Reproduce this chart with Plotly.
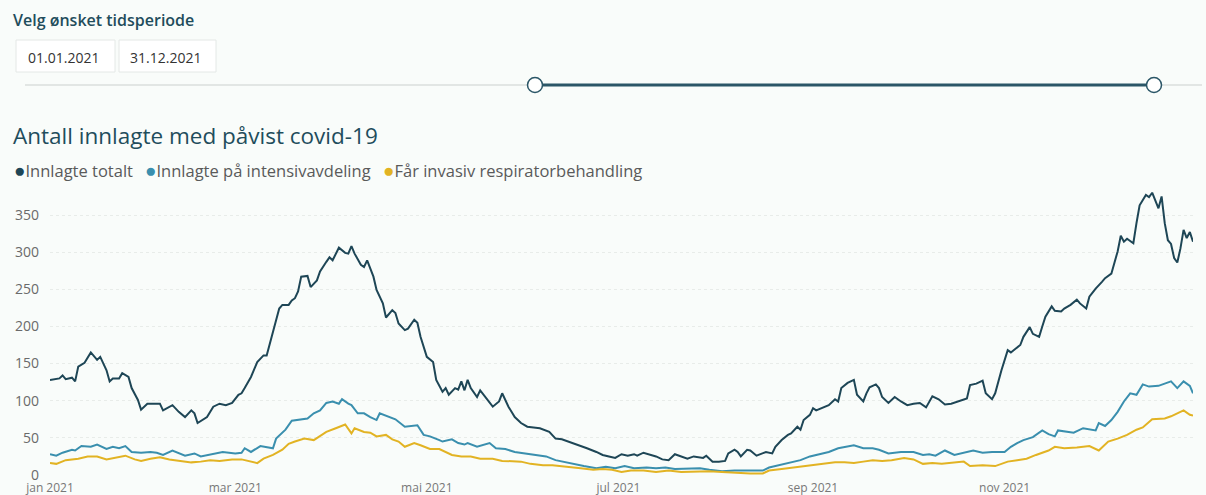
import plotly.graph_objects as go
import pandas as pd

# ---------------- data ----------------
START = "2021-01-01"

# (day offset from 1 Jan 2021, value)
innlagte_totalt = [
    (0, 128), (3, 130), (4, 134), (5, 129), (7, 131), (8, 126), (9, 146), (11, 151), (13, 165),
    (15, 155), (16, 159), (18, 141), (19, 126), (20, 130), (22, 130), (23, 137), (25, 132),
    (26, 117), (28, 101), (29, 88), (31, 96), (33, 96), (35, 96), (36, 87), (38, 92), (39, 94),
    (41, 85), (43, 78), (45, 87), (46, 83), (47, 70), (50, 78), (52, 92), (54, 96), (56, 94),
    (58, 97), (60, 108), (61, 110), (62, 117), (64, 132), (66, 152), (68, 161), (69, 161),
    (71, 191), (73, 224), (74, 229), (76, 229), (77, 235), (78, 238), (79, 247), (80, 267),
    (82, 268), (83, 253), (85, 262), (86, 274), (88, 287), (89, 293), (90, 289), (92, 306),
    (94, 299), (95, 298), (96, 308), (97, 298), (99, 283), (100, 280), (101, 289), (103, 267),
    (104, 249), (106, 231), (107, 212), (109, 222), (110, 218), (111, 204), (113, 195),
    (114, 197), (116, 209), (117, 205), (118, 186), (120, 159), (122, 152), (123, 128),
    (125, 112), (126, 117), (127, 108), (129, 117), (130, 115), (131, 126), (132, 114),
    (133, 128), (134, 117), (136, 105), (137, 114), (139, 103), (141, 92), (143, 99),
    (144, 110), (146, 92), (148, 78), (150, 70), (152, 65), (154, 64), (156, 63), (159, 58),
    (161, 49), (163, 48), (165, 45), (167, 43), (169, 39), (171, 36), (174, 31), (176, 27),
    (178, 25), (180, 23), (182, 28), (184, 26), (186, 28), (187, 26), (189, 30), (191, 28),
    (193, 25), (195, 21), (197, 20), (199, 28), (201, 25), (203, 22), (205, 25), (208, 23),
    (209, 26), (211, 18), (213, 18), (215, 19), (216, 29), (218, 34), (219, 31), (220, 25),
    (222, 34), (223, 33), (225, 26), (227, 29), (228, 31), (230, 29), (231, 38), (233, 47),
    (235, 54), (236, 56), (238, 65), (239, 61), (240, 74), (242, 81), (243, 90), (244, 87),
    (246, 91), (248, 94), (250, 102), (251, 99), (252, 117), (254, 124), (256, 128), (257, 108),
    (259, 99), (260, 110), (261, 118), (263, 122), (264, 117), (265, 105), (267, 97), (268, 101),
    (269, 105), (271, 99), (273, 94), (275, 96), (277, 97), (279, 91), (281, 106), (283, 102),
    (285, 95), (287, 96), (289, 99), (292, 103), (293, 121), (295, 123), (297, 127), (298, 110),
    (300, 102), (301, 110), (303, 141), (305, 168), (306, 165), (309, 175), (310, 186),
    (312, 199), (313, 190), (315, 186), (316, 200), (317, 213), (319, 227), (320, 221),
    (322, 220), (323, 224), (325, 229), (327, 236), (328, 231), (330, 224), (331, 240),
    (333, 251), (335, 260), (336, 265), (338, 271), (339, 285), (340, 301), (341, 322),
    (342, 314), (343, 318), (345, 312), (346, 339), (347, 363), (349, 377), (350, 374),
    (351, 380), (352, 368), (353, 359), (354, 375), (355, 339), (356, 316), (357, 311),
    (358, 292), (359, 286), (360, 305), (361, 330), (362, 319), (363, 327), (364, 314),
]

innlagte_intensiv = [
    (0, 28), (2, 26), (4, 30), (7, 34), (8, 33), (10, 39), (13, 38), (15, 41), (18, 35), (20, 38),
    (22, 36), (24, 39), (26, 31), (29, 30), (32, 31), (34, 30), (36, 27), (39, 33), (43, 26),
    (46, 29), (48, 25), (51, 28), (55, 31), (59, 29), (61, 30), (62, 36), (64, 31), (67, 39),
    (69, 37), (71, 36), (72, 49), (75, 61), (77, 73), (79, 74), (82, 76), (84, 83), (86, 87),
    (88, 97), (90, 99), (92, 96), (93, 102), (95, 96), (96, 94), (98, 83), (100, 83), (102, 78),
    (104, 74), (105, 83), (108, 78), (110, 75), (113, 65), (115, 66), (117, 67), (119, 54),
    (121, 52), (124, 47), (125, 45), (128, 48), (130, 43), (132, 41), (133, 43), (136, 38),
    (140, 43), (142, 36), (145, 35), (148, 31), (151, 29), (154, 27), (158, 25), (161, 20),
    (164, 17), (167, 14), (170, 12), (174, 9), (177, 11), (180, 9), (183, 12), (186, 9),
    (190, 10), (193, 9), (196, 10), (199, 8), (202, 8), (207, 9), (210, 7), (214, 5), (218, 6),
    (223, 6), (227, 6), (229, 10), (232, 13), (235, 16), (239, 20), (242, 25), (245, 28),
    (248, 31), (251, 36), (253, 38), (256, 40), (259, 36), (262, 36), (264, 34), (267, 29),
    (271, 31), (275, 31), (278, 27), (280, 28), (282, 26), (285, 33), (288, 27), (291, 30),
    (294, 33), (297, 30), (300, 31), (304, 31), (306, 38), (308, 43), (310, 47), (313, 51),
    (314, 54), (316, 60), (318, 55), (320, 52), (321, 60), (326, 57), (329, 63), (333, 60),
    (334, 70), (336, 66), (338, 74), (340, 85), (342, 99), (344, 110), (346, 108), (348, 122),
    (350, 119), (353, 120), (357, 126), (359, 117), (361, 126), (363, 120), (364, 110),
]

respiratorbehandling = [
    (0, 16), (2, 15), (5, 20), (9, 22), (12, 25), (15, 25), (18, 21), (21, 24), (24, 26), (27, 21),
    (29, 19), (32, 22), (35, 24), (38, 21), (42, 19), (45, 17), (48, 18), (51, 20), (54, 19),
    (58, 21), (61, 21), (63, 19), (66, 16), (68, 22), (71, 27), (74, 34), (76, 42), (78, 45),
    (81, 49), (84, 47), (86, 52), (88, 58), (91, 63), (93, 66), (94, 68), (96, 56), (97, 63),
    (100, 58), (102, 57), (104, 52), (107, 54), (109, 48), (111, 45), (113, 38), (116, 43),
    (118, 40), (121, 35), (124, 35), (126, 31), (128, 27), (131, 25), (134, 25), (137, 22),
    (141, 22), (144, 19), (147, 18), (150, 18), (153, 15), (157, 13), (160, 13), (163, 12),
    (166, 11), (169, 9), (173, 7), (176, 8), (179, 7), (182, 4), (185, 6), (189, 6), (193, 4),
    (197, 6), (201, 4), (206, 5), (210, 5), (214, 4), (218, 3), (223, 2), (227, 2), (229, 6),
    (233, 8), (237, 10), (242, 12), (246, 15), (250, 17), (253, 17), (256, 16), (259, 18),
    (262, 20), (265, 19), (268, 20), (272, 23), (275, 21), (278, 15), (281, 16), (284, 15),
    (288, 17), (291, 18), (293, 12), (297, 13), (301, 12), (305, 18), (308, 20), (311, 22),
    (314, 27), (316, 30), (318, 33), (320, 38), (323, 36), (327, 37), (331, 39), (334, 33),
    (337, 45), (340, 49), (343, 54), (346, 61), (348, 64), (351, 75), (355, 76), (357, 79),
    (359, 83), (361, 87), (363, 81), (364, 80),
]

serie_navn = ["Innlagte totalt", "Innlagte på intensivavdeling", "Får invasiv respiratorbehandling"]
serie_farger = ["#1e4656", "#3a8fae", "#e2b323"]

tick_datoer = ["2021-01-01", "2021-03-01", "2021-05-01", "2021-07-01", "2021-09-01", "2021-11-01"]
tick_tekst = ["jan 2021", "mar 2021", "mai 2021", "jul 2021", "sep 2021", "nov 2021"]
y_ticks = [0, 50, 100, 150, 200, 250, 300, 350]

periode_tittel = "Velg ønsket tidsperiode"
periode_fra = "01.01.2021"
periode_til = "31.12.2021"
diagram_tittel = "Antall innlagte med påvist covid-19"

# ---------------- figure ----------------
W_TOT, H_TOT = 1206, 495
L, R, T, B = 50, 13, 189, 20
PW, PH = W_TOT - L - R, H_TOT - T - B
BG = "#f9fcfa"
FONT = "Open Sans"


def px(x):
    return (x - L) / PW


def py(y):
    return (H_TOT - B - y) / PH


fig = go.Figure()
for data, navn, farge in zip([innlagte_totalt, innlagte_intensiv, respiratorbehandling],
                             serie_navn, serie_farger):
    datoer = pd.Timestamp(START) + pd.to_timedelta([d for d, _ in data], unit="D")
    fig.add_trace(go.Scatter(
        x=datoer, y=[v for _, v in data], mode="lines", name=navn,
        line=dict(color=farge, width=2), showlegend=False,
    ))

shapes = []
# date boxes
for x0, x1 in [(16, 115), (119, 216)]:
    shapes.append(dict(type="rect", xref="paper", yref="paper",
                       x0=px(x0), x1=px(x1), y0=py(72), y1=py(40),
                       line=dict(color="#e4e8e6", width=1), fillcolor="#ffffff", layer="above"))
# slider track
shapes.append(dict(type="line", xref="paper", yref="paper", x0=px(25), x1=px(1202),
                   y0=py(85), y1=py(85), line=dict(color="#e2e6e4", width=2)))
shapes.append(dict(type="line", xref="paper", yref="paper", x0=px(535), x1=px(1154),
                   y0=py(85), y1=py(85), line=dict(color="#2b5667", width=3)))
for cx in (535, 1154):
    shapes.append(dict(type="circle", xref="paper", yref="paper",
                       x0=px(cx - 7.5), x1=px(cx + 7.5), y0=py(85 + 7.5), y1=py(85 - 7.5),
                       line=dict(color="#2b5667", width=1.5), fillcolor="#ffffff"))

annotations = [
    dict(text=periode_tittel, x=px(11), y=py(20), xref="paper", yref="paper",
         xanchor="left", yanchor="middle", showarrow=False,
         font=dict(family=FONT, size=16, color="#1f4d5c", weight=600)),
    dict(text=periode_fra, x=px(63), y=py(57), xref="paper", yref="paper",
         xanchor="center", yanchor="middle", showarrow=False,
         font=dict(family=FONT, size=14, color="#333333")),
    dict(text=periode_til, x=px(165), y=py(57), xref="paper", yref="paper",
         xanchor="center", yanchor="middle", showarrow=False,
         font=dict(family=FONT, size=14, color="#333333")),
    dict(text=diagram_tittel, x=px(11), y=py(135), xref="paper", yref="paper",
         xanchor="left", yanchor="middle", showarrow=False,
         font=dict(family=FONT, size=22.5, color="#1f4d5c")),
]
legend_x = [12, 143, 381]
for lx, navn, farge in zip(legend_x, serie_navn, serie_farger):
    annotations.append(dict(
        text=f"<span style='color:{farge};font-size:19px'>●</span>{navn}", x=px(lx), y=py(170),
        xref="paper", yref="paper", xanchor="left", yanchor="middle", showarrow=False,
        font=dict(family=FONT, size=16.5, color="#5a5a5a")))

fig.update_layout(
    width=W_TOT, height=H_TOT,
    margin=dict(l=L, r=R, t=T, b=B, pad=0),
    paper_bgcolor=BG, plot_bgcolor=BG,
    font=dict(family=FONT),
    shapes=shapes, annotations=annotations,
    xaxis=dict(range=["2021-01-01", "2021-12-31"], tickvals=tick_datoer, ticktext=tick_tekst,
               tickfont=dict(size=12, color="#777777"), showgrid=False, zeroline=False,
               showline=False, ticks="", automargin=False, ticklabelstandoff=4),
    yaxis=dict(range=[0, 385], tickvals=y_ticks, tickfont=dict(size=14, color="#6a6a6a"),
               gridcolor="#e8ece9", griddash="dot", gridwidth=1, zeroline=False,
               showline=False, ticklabelstandoff=10, automargin=False),
)

fig.write_html("out.html")
